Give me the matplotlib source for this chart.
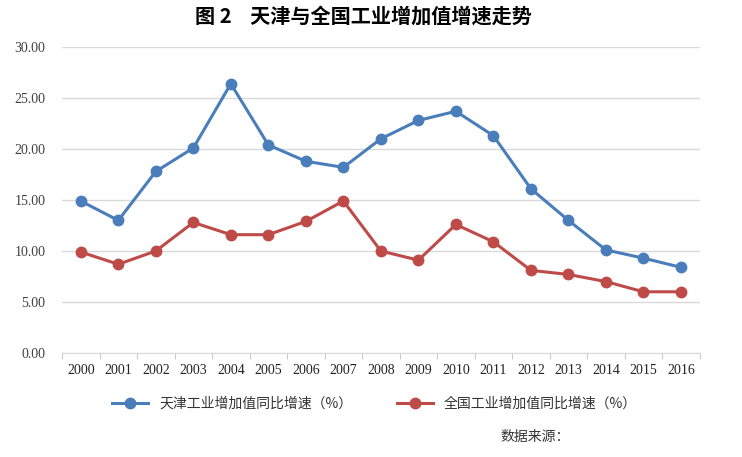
import matplotlib.pyplot as plt
import numpy as np

plt.rcParams['font.family'] = ['Noto Sans CJK SC', 'DejaVu Sans']

years = ['2000', '2001', '2002', '2003', '2004', '2005', '2006', '2007', '2008',
         '2009', '2010', '2011', '2012', '2013', '2014', '2015', '2016']
tianjin = [14.9, 13.0, 17.8, 20.1, 26.4, 20.4, 18.8, 18.2, 21.0,
           22.8, 23.7, 21.3, 16.1, 13.0, 10.1, 9.3, 8.4]
national = [9.9, 8.7, 10.0, 12.8, 11.6, 11.6, 12.9, 14.9, 10.0,
            9.1, 12.6, 10.9, 8.1, 7.7, 7.0, 6.0, 6.0]
yticks = [0, 5, 10, 15, 20, 25, 30]

fig = plt.figure(figsize=(7.42, 4.57), dpi=100)
ax = fig.add_axes([0.0836, 0.2276, 0.8594, 0.6695])

x = np.arange(len(years))
ax.plot(x, tianjin, color='#4A7EBB', lw=2.2, marker='o', ms=7.5,
        label='天津工业增加值同比增速（%）')
ax.plot(x, national, color='#BE4B48', lw=2.2, marker='o', ms=7.5,
        label='全国工业增加值同比增速（%）')

ax.set_xlim(-0.5, len(years) - 0.5)
ax.set_ylim(0, 30)
ax.set_yticks(yticks)
ax.set_yticklabels([f'{v:.2f}' for v in yticks], family='Liberation Serif',
                   fontsize=10, color='#404040')
ax.set_xticks(x)
ax.set_xticklabels(years, family='Liberation Serif', fontsize=10, color='#222222')
ax.set_xticks(np.arange(-0.5, len(years)), minor=True)
ax.tick_params(axis='x', which='major', length=0, pad=8)
ax.tick_params(axis='x', which='minor', length=4, color='#BFBFBF')
ax.tick_params(axis='y', length=0, pad=12)

ax.grid(axis='y', color='#D9D9D9', lw=1)
ax.set_axisbelow(True)
for s in ['top', 'right', 'left']:
    ax.spines[s].set_visible(False)
ax.spines['bottom'].set_color('#D9D9D9')

fig.text(0.49, 0.965, '图 2    天津与全国工业增加值增速走势', ha='center', va='center',
         fontsize=14.5, fontweight='bold')

ax.legend(loc='center', bbox_to_anchor=(0.49, -0.167), ncol=2, frameon=False,
          fontsize=10, handlelength=2.6, columnspacing=3.2,
          labelcolor='#333333')

fig.text(0.675, 0.043, '数据来源：', fontsize=10, style='italic', color='#333333',
         va='center')

fig.savefig('out.png', dpi=100)
